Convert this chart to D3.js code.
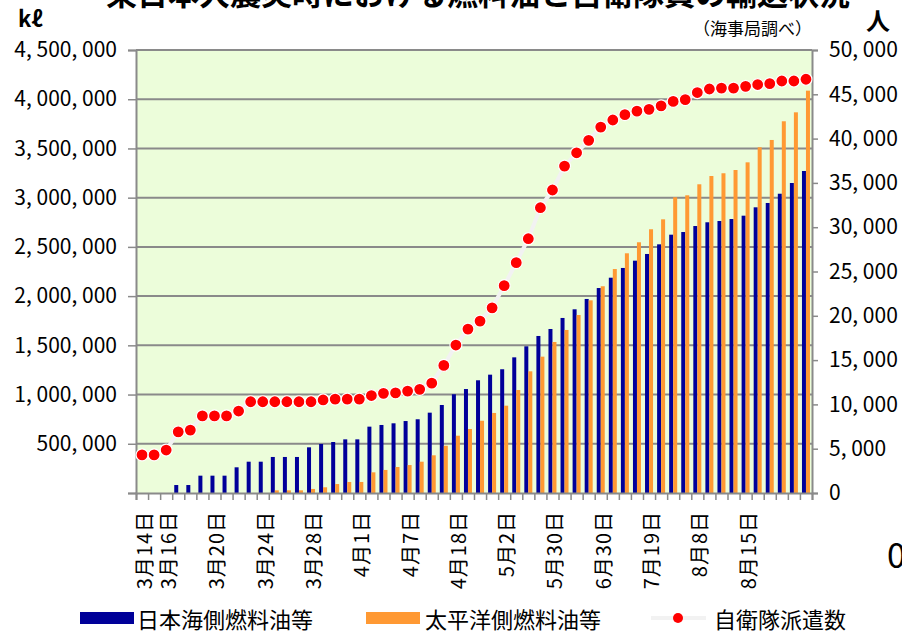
<!DOCTYPE html>
<html lang="ja">
<head>
<meta charset="utf-8">
<title>東日本大震災時における燃料油と自衛隊員の輸送状況</title>
<script src="https://cdn.jsdelivr.net/npm/d3@7"></script>
<style>
  body { margin: 0; background: #fff; }
  svg { font-family: "Noto Sans CJK JP", sans-serif; }
</style>
</head>
<body>
<script>

// category labels (only some days are labelled on the axis)
var categories = [
  "3月14日", "", "3月16日", "", "", "", "3月20日", "", "", "",
  "3月24日", "", "", "", "3月28日", "", "", "", "4月1日", "",
  "", "", "4月7日", "", "", "", "4月18日", "", "", "",
  "5月2日", "", "", "", "5月30日", "", "", "", "6月30日", "",
  "", "", "7月19日", "", "", "", "8月8日", "", "", "",
  "8月15日", "", "", "", "", ""
];

// 日本海側燃料油等 (kl, cumulative)
var japanSea = [
  0, 0, 0, 81000, 81000, 176000, 176000, 176000, 261000, 318000,
  318000, 366000, 366000, 366000, 464000, 498000, 518000, 545000, 545000, 674000,
  691000, 708000, 731000, 749000, 816000, 894000, 1003000, 1056000, 1145000, 1202000,
  1257000, 1378000, 1490000, 1595000, 1666000, 1778000, 1866000, 1971000, 2082000, 2187000,
  2286000, 2360000, 2428000, 2526000, 2624000, 2651000, 2712000, 2750000, 2763000, 2783000,
  2817000, 2902000, 2946000, 3040000, 3149000, 3271000
];

// 太平洋側燃料油等 (kl, cumulative)
var pacific = [
  0, 0, 0, 0, 0, 0, 0, 0, 0, 0,
  0, 27000, 27000, 27000, 41000, 58000, 91000, 112000, 112000, 210000,
  234000, 264000, 284000, 318000, 383000, 480000, 582000, 650000, 734000, 813000,
  887000, 1046000, 1236000, 1385000, 1534000, 1656000, 1808000, 1957000, 2100000, 2275000,
  2435000, 2547000, 2679000, 2780000, 3004000, 3024000, 3136000, 3220000, 3248000, 3281000,
  3359000, 3512000, 3586000, 3776000, 3867000, 4087000
];

// 自衛隊派遣数 (people)
var sdf = [
  4300, 4300, 4850, 6900, 7100, 8700, 8700, 8700, 9250, 10300,
  10300, 10300, 10300, 10300, 10300, 10500, 10600, 10600, 10600, 11000,
  11250, 11300, 11500, 11700, 12400, 14400, 16700, 18500, 19400, 20900,
  23400, 26000, 28700, 32200, 34200, 36900, 38400, 39800, 41300, 42100,
  42700, 43100, 43300, 43700, 44200, 44400, 45200, 45600, 45700, 45700,
  45900, 46100, 46200, 46500, 46500, 46700
];

var leftTicks = [0, 500000, 1000000, 1500000, 2000000, 2500000, 3000000, 3500000, 4000000, 4500000];
var rightTicks = [0, 5000, 10000, 15000, 20000, 25000, 30000, 35000, 40000, 45000, 50000];

var w = 902, h = 631;
var plotLeft = 136, plotRight = 812, plotTop = 50, plotBottom = 493;

var svg = d3.select("body").append("svg")
  .attr("width", w)
  .attr("height", h);

var x = d3.scaleBand()
  .domain(d3.range(categories.length))
  .range([plotLeft, plotRight]);

var xInner = d3.scaleBand()
  .domain(["japanSea", "pacific"])
  .range([-4, 4]);

var yL = d3.scaleLinear().domain([0, 4500000]).range([plotBottom, plotTop]);
var yR = d3.scaleLinear().domain([0, 50000]).range([plotBottom, plotTop]);

var fmt = function(d) { return d3.format(",")(d).replace(/,/g, ", "); };

// plot background
svg.append("rect")
  .attr("x", plotLeft).attr("y", plotTop)
  .attr("width", plotRight - plotLeft).attr("height", plotBottom - plotTop)
  .attr("fill", "#ecfdda");

// gridlines
svg.append("g")
  .selectAll("line")
  .data(leftTicks.slice(1))
  .enter().append("line")
  .attr("x1", plotLeft).attr("x2", plotRight)
  .attr("y1", function(d) { return yL(d); })
  .attr("y2", function(d) { return yL(d); })
  .attr("stroke", "#8a8a8a")
  .attr("stroke-width", 2);

// bars
svg.append("g").selectAll("rect")
  .data(japanSea)
  .enter().append("rect")
  .attr("x", function(d, i) { return x(i) + x.bandwidth() / 2 + xInner("japanSea"); })
  .attr("y", function(d) { return yL(d); })
  .attr("width", xInner.bandwidth())
  .attr("height", function(d) { return plotBottom - yL(d); })
  .attr("fill", "#000099");

svg.append("g").selectAll("rect")
  .data(pacific)
  .enter().append("rect")
  .attr("x", function(d, i) { return x(i) + x.bandwidth() / 2 + xInner("pacific"); })
  .attr("y", function(d) { return yL(d); })
  .attr("width", xInner.bandwidth())
  .attr("height", function(d) { return plotBottom - yL(d); })
  .attr("fill", "#ff9933");

// axes
var axisColor = "#8a8a8a";

var gL = svg.append("g")
  .attr("transform", "translate(" + plotLeft + ",0)")
  .call(d3.axisLeft(yL).tickValues(leftTicks).tickSize(8).tickPadding(11)
    .tickFormat(function(d) { return d === 0 ? "" : fmt(d); }));

var gR = svg.append("g")
  .attr("transform", "translate(" + plotRight + ",0)")
  .call(d3.axisRight(yR).tickValues(rightTicks).tickSize(6).tickPadding(11)
    .tickFormat(fmt));

var xb = d3.scaleLinear().domain([0, categories.length]).range([plotLeft, plotRight]);
var gB = svg.append("g")
  .attr("transform", "translate(0," + plotBottom + ")")
  .call(d3.axisBottom(xb).tickValues(d3.range(0, categories.length + 1)).tickSize(7).tickFormat(""));

[gL, gR, gB].forEach(function(g) {
  g.select(".domain").attr("stroke", axisColor).attr("stroke-width", 2);
  g.selectAll(".tick line").attr("stroke", axisColor).attr("stroke-width", 1.5);
  g.selectAll("text")
    .attr("fill", "#000")
    .attr("font-size", "21px")
    .attr("font-family", "'Noto Sans CJK JP', sans-serif");
});

// x labels (rotated)
svg.append("g").selectAll("text")
  .data(categories.map(function(d, i) { return { label: d, i: i }; })
    .filter(function(d) { return d.label !== ""; }))
  .enter().append("text")
  .attr("transform", function(d) {
    return "translate(" + (x(d.i) + x.bandwidth() / 2 + 1.5) + ",511) rotate(-90)";
  })
  .attr("text-anchor", "end")
  .attr("dominant-baseline", "central")
  .attr("font-size", "20px")
  .attr("letter-spacing", "1px")
  .text(function(d) { return d.label; });

// sdf line and dots
var line = d3.line()
  .x(function(d, i) { return x(i) + x.bandwidth() / 2; })
  .y(function(d) { return yR(d); });

svg.append("path")
  .datum(sdf)
  .attr("d", line)
  .attr("fill", "none")
  .attr("stroke", "#f2f2f2")
  .attr("stroke-width", 4);

svg.append("g").selectAll("circle")
  .data(sdf)
  .enter().append("circle")
  .attr("cx", function(d, i) { return x(i) + x.bandwidth() / 2; })
  .attr("cy", function(d) { return yR(d); })
  .attr("r", 6)
  .attr("fill", "#ff0000")
  .attr("stroke", "#ffffff")
  .attr("stroke-width", 1.2);

// titles and units
svg.append("text")
  .attr("x", 478).attr("y", 5)
  .attr("text-anchor", "middle")
  .attr("font-size", "31px")
  .attr("font-weight", "bold")
  .text("東日本大震災時における燃料油と自衛隊員の輸送状況");

svg.append("text")
  .attr("x", 18).attr("y", 27)
  .attr("font-size", "22px")
  .attr("font-weight", "bold")
  .text("kℓ");

svg.append("text")
  .attr("x", 812).attr("y", 35)
  .attr("text-anchor", "end")
  .attr("font-size", "17px")
  .text("（海事局調べ）");

svg.append("text")
  .attr("x", 866).attr("y", 30)
  .attr("font-size", "24px")
  .attr("font-weight", "bold")
  .text("人");

svg.append("text")
  .attr("x", 887).attr("y", 568)
  .attr("font-size", "34px")
  .text("0");

// legend
var legend = svg.append("g");
var ly = 618;

legend.append("rect").attr("x", 80).attr("y", ly - 6).attr("width", 54).attr("height", 12).attr("fill", "#000099");
legend.append("text").attr("x", 137).attr("y", ly).attr("dominant-baseline", "central")
  .attr("font-size", "22px").text("日本海側燃料油等");

legend.append("rect").attr("x", 366).attr("y", ly - 6).attr("width", 54).attr("height", 12).attr("fill", "#ff9933");
legend.append("text").attr("x", 425).attr("y", ly).attr("dominant-baseline", "central")
  .attr("font-size", "22px").text("太平洋側燃料油等");

legend.append("line").attr("x1", 651).attr("x2", 706).attr("y1", ly).attr("y2", ly)
  .attr("stroke", "#f2f2f2").attr("stroke-width", 4);
legend.append("circle").attr("cx", 678).attr("cy", ly).attr("r", 5).attr("fill", "#ff0000");
legend.append("text").attr("x", 714).attr("y", ly).attr("dominant-baseline", "central")
  .attr("font-size", "22px").text("自衛隊派遣数");

</script>
</body>
</html>
